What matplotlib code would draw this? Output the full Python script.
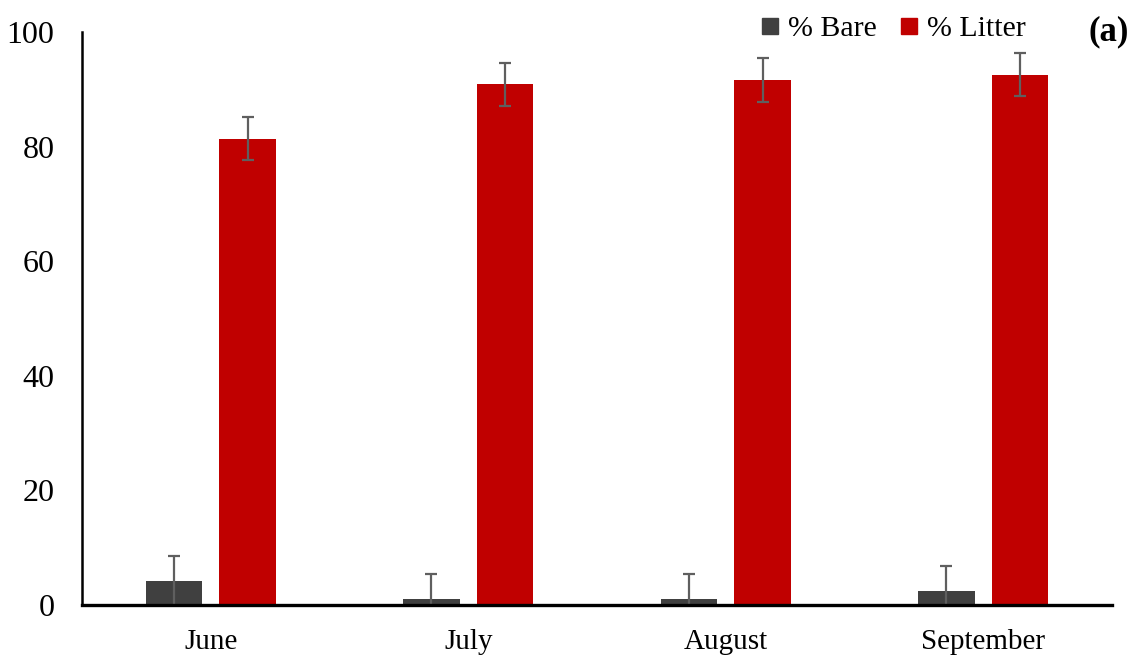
import numpy as np
import matplotlib.pyplot as plt
from matplotlib.lines import Line2D

plt.rcParams['font.family'] = ['Liberation Serif', 'DejaVu Serif']

months = ['June', 'July', 'August', 'September']
bare = [4.2, 1.1, 1.1, 2.5]
bare_err = [4.3, 4.3, 4.3, 4.3]
litter = [81.4, 90.9, 91.6, 92.6]
litter_err = [3.8, 3.8, 3.8, 3.8]

fig = plt.figure(figsize=(11.33, 6.56), dpi=100)
ax = fig.add_axes([0.0724, 0.0777, 0.9091, 0.8733])

x = np.arange(len(months))
width = 0.22
off = 0.143

err_kw = dict(ecolor='#5f5f5f', elinewidth=1.6, capsize=4.5, capthick=1.6)
ax.bar(x - off, bare, width, color='#404040', yerr=bare_err, error_kw=err_kw)
ax.bar(x + off, litter, width, color='#C00000', yerr=litter_err, error_kw=err_kw)

ax.set_xlim(-0.5, 3.5)
ax.set_ylim(0, 100)
ax.set_yticks(range(0, 101, 20))
ax.set_xticks(x)
ax.set_xticklabels(months)
ax.tick_params(axis='y', length=0, pad=20, labelsize=23)
ax.tick_params(axis='x', length=0, pad=17, labelsize=21)

for s in ['top', 'right']:
    ax.spines[s].set_visible(False)
ax.spines['bottom'].set_linewidth(2.4)
ax.spines['left'].set_linewidth(1.8)

handles = [Line2D([], [], marker='s', linestyle='none', markersize=12, color='#404040'),
           Line2D([], [], marker='s', linestyle='none', markersize=12, color='#C00000')]
fig.legend(handles, ['% Bare', '% Litter'], ncol=2, frameon=False, fontsize=21.5,
           loc='center', bbox_to_anchor=(0.786, 0.956), handletextpad=0.1,
           columnspacing=0.6, handlelength=1.0)

fig.text(0.996, 0.951, '(a)', fontsize=25, fontweight='bold', ha='right', va='center')

fig.savefig('out.png', dpi=100)
